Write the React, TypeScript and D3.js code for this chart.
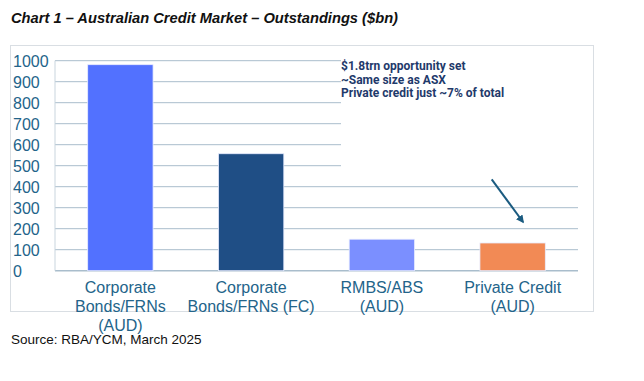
import React from "react";
import * as d3 from "d3";

const categories = [
  ["Corporate", "Bonds/FRNs", "(AUD)"],
  ["Corporate", "Bonds/FRNs (FC)"],
  ["RMBS/ABS", "(AUD)"],
  ["Private Credit", "(AUD)"],
];
const values = [981, 557, 150, 132];
const barColors = ["#5271FF", "#1F4E85", "#7B8FFF", "#F28A55"];
const yTicks = [0, 100, 200, 300, 400, 500, 600, 700, 800, 900, 1000];
const annotation = [
  "$1.8trn opportunity set",
  "~Same size as ASX",
  "Private credit just ~7% of total",
];

export default function App() {
  const W = 644, H = 381;
  const left = 55, right = 578, top = 60.7, bottom = 270.7;
  const ids = categories.map((_, i) => String(i));
  const x = d3.scaleBand().domain(ids).range([left, right]).paddingInner(0.5).paddingOuter(0.25);
  const y = d3.scaleLinear().domain([0, 1000]).range([bottom, top]);
  const axisColor = "#23648A";
  const gridColor = "#A9BDCC";
  return (
    <svg width={W} height={H} style={{ position: "absolute", left: 0, top: 0 }} fontFamily="Arial, 'Liberation Sans', sans-serif">
      <rect width={W} height={H} fill="#fff" />
      <text x={11} y={22.5} fontSize={14.5} fontWeight="bold" fontStyle="italic" fill="#111" textLength={387} lengthAdjust="spacingAndGlyphs">
        Chart 1 – Australian Credit Market – Outstandings ($bn)
      </text>
      <rect x={10.5} y={45.5} width={583} height={266} fill="#fff" stroke="#D9DEE3" strokeWidth={1} />
      {yTicks.map((t) => (
        <line key={t} x1={left} x2={t >= 500 ? 341 : right} y1={y(t)} y2={y(t)} stroke={gridColor} strokeWidth={t === 0 ? 1.5 : 1} />
      ))}
      <line x1={left} x2={left} y1={top} y2={bottom} stroke="#C9D5DE" strokeWidth={1} />
      {yTicks.map((t) => (
        <text key={t} x={13} y={y(t) + 6} fontSize={16} fill={axisColor}>{t}</text>
      ))}
      {values.map((v, i) => (
        <rect key={i} x={x(String(i))} y={y(v)} width={x.bandwidth()} height={bottom - y(v)} fill={barColors[i]} stroke="#E8ECFF" strokeWidth={0.8} />
      ))}
      {categories.map((lines, i) => (
        <text key={i} textAnchor="middle" fontSize={16} fill={axisColor}>
          {lines.map((l, j) => (
            <tspan key={j} x={(x(String(i)) as number) + x.bandwidth() / 2} y={292.5 + j * 19}>{l}</tspan>
          ))}
        </text>
      ))}
      {annotation.map((l, j) => (
        <text key={j} x={341} y={70 + j * 13.7} fontSize={12} fontWeight="bold" fill="#1F3A6B" fontFamily="Roboto, Arial, sans-serif">{l}</text>
      ))}
      <defs>
        <marker id="ah" viewBox="0 0 10 10" refX="8" refY="5" markerWidth="4" markerHeight="4" orient="auto">
          <path d="M0,0 L10,5 L0,10 z" fill="#1B5B80" />
        </marker>
      </defs>
      <line x1={491.7} y1={179.3} x2={523} y2={222} stroke="#1B5B80" strokeWidth={2} markerEnd="url(#ah)" />
      <text x={11} y={344} fontSize={13.5} fill="#111">Source: RBA/YCM, March 2025</text>
    </svg>
  );
}
